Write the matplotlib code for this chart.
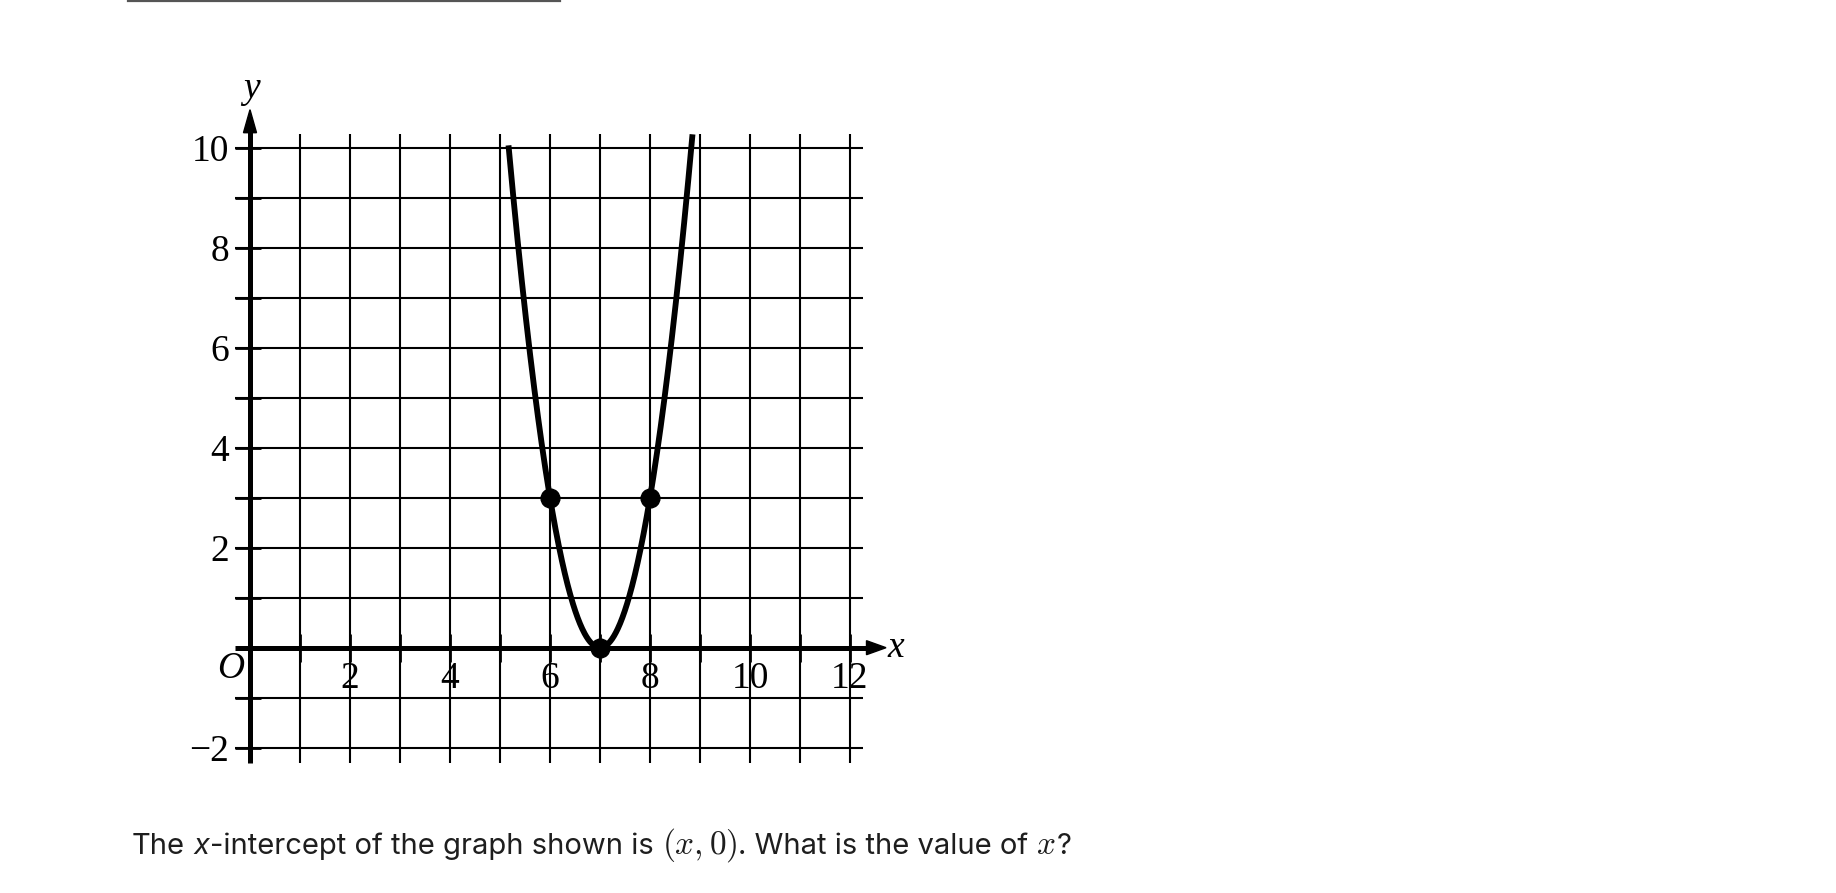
import matplotlib
matplotlib.use("Agg")
import matplotlib.pyplot as plt
import numpy as np
from matplotlib.lines import Line2D
from matplotlib.patches import Polygon

# ---- data ----
# parabola y = a (x - h)^2 + k, drawn between the two end x values
parab_a, parab_h, parab_k = 3.0, 7.0, 0.0
curve_x_start, curve_x_end = 5.17, 8.85
point_x = [6, 7, 8]
point_y = [3, 0, 3]

x_grid = list(range(1, 13))
y_grid = [-2, -1, 1, 2, 3, 4, 5, 6, 7, 8, 9, 10]
x_tick_vals = [2, 4, 6, 8, 10, 12]
y_tick_vals = [10, 8, 6, 4, 2, -2]
y_tick_labels = ["10", "8", "6", "4", "2", "\u22122"]

question_parts = [
    ("The", "plain"),
    (" ", "gap"),
    ("x", "italic"),
    ("-intercept of the graph shown is", "plain"),
    (" ", "gap"),
    ("$(x, 0)$", "math"),
    (". What is the value of", "plain"),
    (" ", "gap"),
    ("$x$", "math"),
    ("?", "plain"),
]

W, H = 1836, 893
plt.rcParams["mathtext.fontset"] = "cm"

fig = plt.figure(figsize=(W / 100, H / 100), dpi=100)
fig.patch.set_facecolor("white")

# axes placed so that one unit = 50 px, origin at (250, 647.7) px from top-left
xlo, xhi, ylo, yhi = -2, 14, -3, 11.5
ox, oy, unit = 250.0, 647.7, 50.0
left = (ox + xlo * unit) / W
width = (xhi - xlo) * unit / W
bottom = 1 - (oy - ylo * unit) / H
height = (yhi - ylo) * unit / H
ax = fig.add_axes([left, bottom, width, height])
ax.set_xlim(xlo, xhi)
ax.set_ylim(ylo, yhi)
ax.axis("off")

grid_lw = 1.5
ax.vlines(x_grid, -2.3, 10.27, color="black", lw=grid_lw, zorder=1)
ax.hlines(y_grid, -0.3, 12.26, color="black", lw=grid_lw, zorder=1)

# short tick marks across the axes
ax.vlines(x_grid, -0.28, 0.28, color="black", lw=2.0, zorder=2)
ax.hlines(y_grid, -0.3, 0.22, color="black", lw=2.0, zorder=2)

# axes lines with arrow heads
axis_lw = 3.6
ax.plot([0, 0], [-2.3, 10.35], color="black", lw=axis_lw, solid_capstyle="butt", zorder=3)
ax.plot([-0.3, 12.4], [0, 0], color="black", lw=axis_lw, solid_capstyle="butt", zorder=3)
ax.add_patch(Polygon([[-0.13, 10.3], [0.13, 10.3], [0, 10.76]], closed=True,
                     color="black", zorder=3))
ax.add_patch(Polygon([[12.33, 0.14], [12.33, -0.14], [12.72, 0]], closed=True,
                     color="black", zorder=3))

# parabola
xs = np.linspace(curve_x_start, curve_x_end, 400)
ys = parab_a * (xs - parab_h) ** 2 + parab_k
ax.plot(xs, ys, color="black", lw=4.2, solid_capstyle="butt", zorder=4)
ax.plot(point_x, point_y, "o", color="black", ms=13.5, zorder=5)

serif = "Liberation Serif"
fs = 27
for v in x_tick_vals:
    ax.text(v, -0.81, str(v), ha="center", va="baseline", fontsize=fs, family=serif)
for v, lab in zip(y_tick_vals, y_tick_labels):
    ax.text(-0.42, v - 0.27, lab, ha="right", va="baseline", fontsize=fs, family=serif)
ax.text(-0.12, -0.6, "O", ha="right", va="baseline", fontsize=fs, family=serif,
        style="italic")
ax.text(12.74, -0.19, "x", ha="left", va="baseline", fontsize=fs, family=serif,
        style="italic")
ax.text(0.02, 10.99, "y", ha="center", va="baseline", fontsize=fs, family=serif,
        style="italic")

# thin grey rule at top of the page
fig.add_artist(Line2D([128 / W, 560 / W], [1 - 1 / H, 1 - 1 / H], color="#555555", lw=1.6))

# question text, laid out piece by piece on one baseline
renderer = fig.canvas.get_renderer()
x_px = 132.0
base_y = 1 - 854 / H
q_fs = 21
q_color = "#1e1e1e"
gap_px = 8.0
for s, kind in question_parts:
    if kind == "gap":
        x_px += gap_px
        continue
    kw = dict(fontsize=q_fs, color=q_color, va="baseline", ha="left", family="Inter")
    if kind == "italic":
        kw["style"] = "italic"
    if kind == "math":
        kw["fontsize"] = q_fs + 3
    t = fig.text(x_px / W, base_y, s, **kw)
    bb = t.get_window_extent(renderer)
    x_px = bb.x1 + (1 if kind != "plain" else 0)

fig.savefig("out.png", dpi=100, facecolor="white")
